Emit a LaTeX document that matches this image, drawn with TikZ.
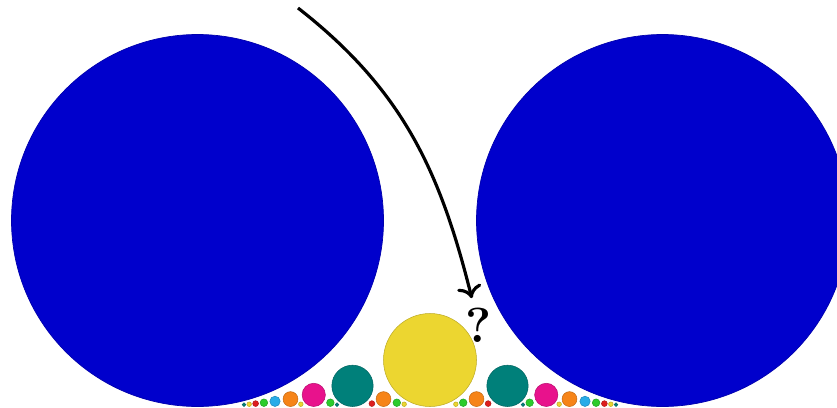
\documentclass[tikz,border=0pt]{standalone}
\usetikzlibrary{arrows.meta}
\definecolor{fordblue}{RGB}{0,0,204}
\definecolor{ford0}{RGB}{236,214,48}
\definecolor{ford1}{RGB}{0,128,122}
\definecolor{ford2}{RGB}{232,18,140}
\definecolor{ford3}{RGB}{246,132,24}
\definecolor{ford4}{RGB}{40,172,232}
\definecolor{ford5}{RGB}{44,204,44}
\definecolor{ford6}{RGB}{222,30,30}
\begin{document}
\begin{tikzpicture}[x=0.02cm, y=0.02cm, line width=0.4pt]
  \def\U{465}
  \def\X{197.5}
  \def\R{186}
  \useasboundingbox (0,-0.5) rectangle (837,406.5);
  \clip (0,-0.5) rectangle (837,406.5);
  \filldraw[fill=fordblue, draw=fordblue!85!black] (\X,\R) circle[radius=\R];
  \filldraw[fill=fordblue, draw=fordblue!85!black] (\X+\U,\R) circle[radius=\R];
  \foreach \q in {2,...,10} {
    \pgfmathtruncatemacro\k{mod(\q-2,7)}
    \pgfmathsetmacro\r{\R/(\q*\q)}
    \foreach \p in {1,...,\q} {
      \pgfmathtruncatemacro\g{gcd(\p,\q)}
      \ifnum\g=1
        \filldraw[fill=ford\k, draw=ford\k!80!black, line width=0.3pt] (\X+\U*\p/\q,\r) circle[radius=\r];
      \fi
    }
  }
  \coordinate (start) at (298,398.5);
  \node[font=\fontsize{28}{30}\selectfont\bfseries, inner sep=0pt, outer sep=5.5pt] (query) at (479,81.5) {?};
  \draw[line width=1.8pt, -{Computer Modern Rightarrow[length=7pt,width=14pt]}] (start) to[out=-38, in=104] (query.105);
\end{tikzpicture}
\end{document}
